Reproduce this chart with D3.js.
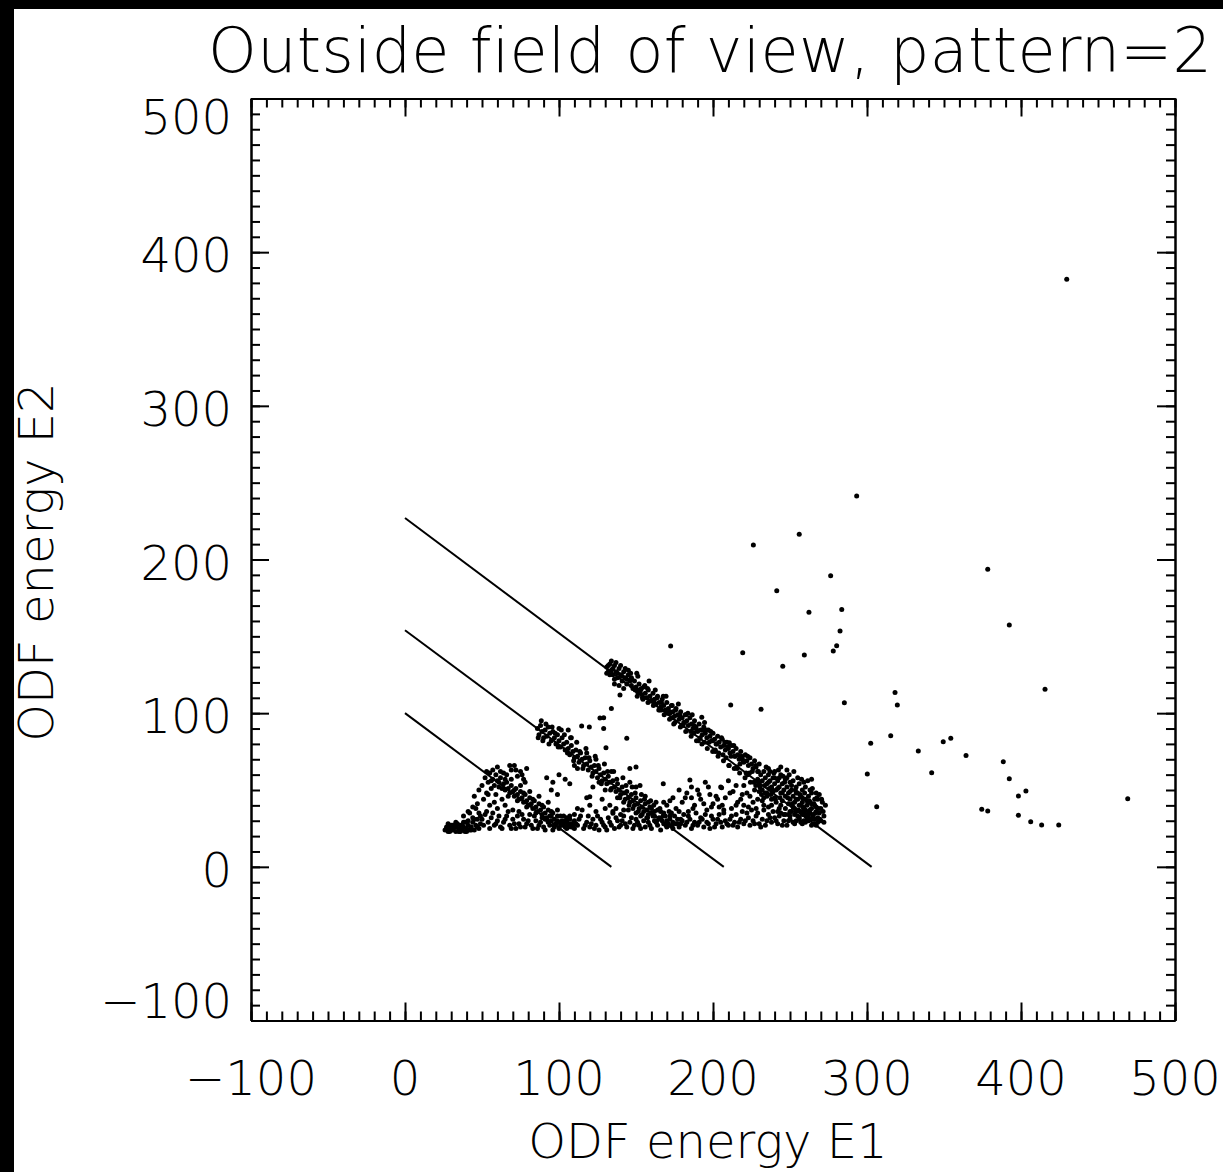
<!DOCTYPE html>
<html>
<head>
<meta charset="utf-8">
<script src="https://cdn.jsdelivr.net/npm/d3@7"></script>
<style>
  body { margin: 0; background: #000; }
  text { font-family: "DejaVu Sans", sans-serif; font-weight: 200; fill: #000; font-variant-ligatures: none; }
</style>
</head>
<body>
<div id="chart"></div>
<script>
// tick labels
var xTickVals = [-100, 0, 100, 200, 300, 400, 500];
var yTickVals = [-100, 0, 100, 200, 300, 400, 500];

// the three reference lines, [E1, E2] end points
var refLines = [
  [[0, 100], [134, 0]],
  [[0, 154], [207, 0]],
  [[0, 227], [303, 0]]
];

// bottom-left group (around the lowest line)
var groupA = [
  [26,24],[27,26],[28,23],[29,25],[30,27],[31,24],[32,26],[33,23],[34,28],[35,25],[36,27],[37,24],
  [38,26],[39,29],[40,25],[41,27],[42,24],[28,28],[30,24],[33,26],[36,23],[38,29],[40,23],[43,26],
  [44,29],[45,24],[46,27],[47,31],[48,25],[49,28],[38,33],[41,36],[44,32],[46,38],[48,35],[50,31],
  [52,34],[54,29],[56,32],[58,27],[60,30],[62,26],[64,29],[66,33],[68,27],[70,31],[72,25],[74,28],
  [76,34],[78,26],[80,30],[82,27],[84,33],[86,25],[88,29],[90,26],[92,31],[94,27],[96,24],[98,28],
  [100,25],[102,30],[104,26],[106,28],
  [52,58],[54,55],[55,61],[57,57],[58,53],[60,56],[61,52],[62,58],[64,54],[65,50],[66,55],[67,51],
  [68,48],[69,53],[70,49],[71,46],[72,51],[73,47],[74,44],[75,49],[76,45],[77,42],[78,47],[79,43],
  [80,40],[81,45],[82,41],[83,38],[84,43],[85,39],[86,36],[87,41],[88,37],[89,34],[90,39],[91,35],
  [92,32],[93,37],[94,33],[95,30],[96,35],[97,31],[98,28],[99,33],[100,29],[102,27],[104,30],[106,26],
  [108,28],[110,25],
  [45,46],[48,50],[50,53],[53,48],[56,51],[59,47],[62,62],[66,60],[69,63],[71,66],[73,59],[75,62],
  [77,57],[79,64],[63,44],[58,42],[55,40],[60,38],[65,40],[70,37],[74,36],
  [92,58],[96,55],[100,60],[104,57],[107,54],[95,50],[99,47],
  [53,62],[56,56],[59,60],[61,55],[63,51],[65,57],[67,46],[69,57],[71,50],[73,43],[75,53],[77,48],
  [79,39],[81,49],[83,44],[85,35],[87,46],[89,40],[91,31],[93,42],[95,36],[97,27],[99,37],[101,33],
  [103,28],[105,32],[107,31],[109,28],
  [27,25],[29,23],[31,27],[33,29],[35,23],[37,27],[39,23],[41,30],[43,24],[45,31],[47,26],[49,33],
  [51,27],[53,36],[55,25],[57,35],[59,28],[61,33],[63,25],[65,31],[67,36],[69,25],[71,28],[73,33],
  [75,26],[77,31],[79,28],[81,34],[83,25],[85,30],[87,27],[89,32],[91,24],[93,29],[95,33],[97,26],
  [99,30],[101,27],[103,33],[105,25],
  [57,63],[60,65],[64,61],[68,66],[72,63],[76,60],[78,55],[54,47],[51,44],[47,41],[44,39],[42,35]
];

// middle group (along the middle line)
var groupB = [
  [86,90],[87,86],[88,92],[89,88],[90,84],[91,89],[92,85],[93,91],[94,87],[95,82],[96,88],[97,84],
  [98,80],[99,86],[100,82],[101,78],[102,84],[103,80],[104,76],[105,81],
  [106,77],[107,73],[108,79],[109,75],[110,71],[111,76],[112,72],[113,68],[114,74],[115,70],[116,66],
  [117,71],[118,67],[119,63],[120,69],[121,65],[122,61],[123,66],[124,62],[125,58],[126,64],[127,60],
  [128,56],[129,61],[130,57],[131,54],[132,59],[133,55],[134,51],[135,56],[136,52],[137,49],[138,54],
  [139,50],[140,47],[141,52],[142,48],[143,44],[144,49],[145,45],[146,42],[147,47],[148,43],[149,40],
  [150,45],[151,41],[152,38],[153,43],[154,39],[155,36],[156,41],[157,37],[158,34],[159,39],[160,35],
  [162,33],[164,37],[166,31],[168,35],[170,30],[172,33],[174,29],
  [100,90],[108,84],[112,64],[118,74],[126,55],[134,62],[142,42],[150,52],[110,66],[124,70],[138,45],
  [146,55],[156,46],[163,42],[130,50],
  [86.5,84],[88.5,95],[89.5,82],[91.5,93],[93.5,80],[95.5,91],[97.5,87],[99.5,78],[101.5,89],[103.5,86],
  [105.5,74],[107.5,84],[109.5,69],[111.5,81],[113.5,75],[115.5,64],[117.5,77],[119.5,71],[121.5,59],
  [123.5,72],[125.5,66],[127.5,54],[129.5,67],[131.5,62],[133.5,50],[135.5,62],[137.5,57],[139.5,45],
  [141.5,58],[143.5,53],[145.5,40],[147.5,52],[149.5,48],[151.5,36],[153.5,47],[155.5,44],[157.5,32],
  [159.5,43],[161.5,40],[163.5,30],[165.5,38],[167.5,33],[169.5,27],[171.5,36],[173.5,27],[175,33],
  [177,28],[179,31]
];

// upper group (along the top line)
var groupC = [
  [131,130],[132,127],[133,132],[134,128],[135,125],[136,131],[137,127],[138,123],[139,129],[140,125],
  [141,121],[142,127],[143,123],[144,119],[145,125],[146,121],[134,134],[137,133],[140,131],[143,129],
  [136,122],[139,118],[142,116],
  [132,131],[135,129],[138,126],[141,124],[144,122],[133,125],[136,119],[131,126],[145,128],[147,123],
  [147,118],[148,116],[149,121],[150,117],[151,114],[152,119],[153,115],[154,112],[155,117],[156,113],
  [157,110],[158,115],[159,111],[160,108],[161,113],[162,109],[163,106],[164,111],[165,107],[166,104],
  [167,109],[168,105],[169,102],[170,107],[171,103],[172,100],[173,105],[174,101],[175,98],[176,103],
  [177,99],[178,96],[179,101],[180,97],[181,94],[182,99],[183,95],[184,92],[185,97],[186,93],[187,90],
  [188,95],[189,91],[190,88],[191,93],[192,89],[193,86],[194,91],[195,87],[196,84],[197,89],[198,85],
  [199,82],[200,87],[201,83],[202,80],[203,85],[204,81],[205,78],[206,83],[207,79],[208,76],[209,81],
  [210,77],[211,74],[212,79],[213,75],[214,72],[215,77],[216,73],[217,70],[218,75],[219,71],[220,68],
  [221,73],[222,69],[223,66],[224,71],[225,67],[226,64],[227,69],[228,65],[229,62],[230,67],
  [146.5,126],[149.5,115],[150.5,126],[153.5,116],[154.5,109],[157.5,116],[158.5,121],[161.5,108],
  [162.5,115],[165.5,102],[166.5,107],[169.5,111],[170.5,100],[173.5,105],[174.5,93],[177.5,106],
  [178.5,99],[181.5,94],[182.5,99],[185.5,88],[186.5,99],[189.5,89],[190.5,82],[193.5,89],[194.5,94],
  [197.5,81],[198.5,88],[201.5,75],[202.5,80],[205.5,84],[206.5,73],[209.5,78],[210.5,66],[213.5,79],
  [214.5,72],[217.5,67],[218.5,72],[221.5,61],[222.5,72],[225.5,62],[226.5,55],[229.5,62],
  [147.2,122],[151.2,124],[152.2,115],[155.7,118],[159.7,108],[163.7,110],[167.7,111],[171.7,101],
  [175.7,102],[179.7,92],[183.7,100],[187.7,92],[191.7,84],[195.7,89],[199.7,82],[203.7,74],[207.7,81],
  [211.7,72],[215.7,64],[219.7,69],[223.7,61],[227.7,66],
  [150.8,111],[154.2,110],[157.8,107],[161.3,105],[164.8,102],[168.3,99],[171.8,96],[175.3,94],
  [178.8,91],[182.3,88],[185.8,85],[189.3,82],[192.8,80],[196.3,77],[199.8,75],[203.3,72],[206.8,69],
  [210.3,66],[213.8,64],[217.3,61],[220.8,58],[224.3,55],[227.8,53],
  [152.5,113],[159.5,108],[166.5,102],[173.5,97],[180.5,92],[187.5,87],[194.5,81],[201.5,76],
  [208.5,71],[215.5,65],[222.5,60],[229.5,55],
  [231,60],[232,56],[233,62],[234,58],[235,54],[236,60],[237,56],[238,52],[239,58],[240,54],[241,50],
  [242,56],[243,52],[244,48],[245,54],[246,50],[247,46],[248,52],[249,48],[250,44],[251,50],[252,46],
  [253,42],[254,48],[255,44],[256,40],[257,46],[258,42],[259,38],[260,44],[261,40],[262,36],[263,42],
  [264,38],[265,34],[266,40],[267,36],[268,32],[269,35],[270,30],
  [232,50],[235,46],[238,44],[241,42],[244,40],[247,38],[250,36],[253,34],[256,32],[259,30],[262,30],
  [236,64],[240,62],[244,60],[248,58],[252,56],[256,54],[260,52],[264,48],[268,44],[250,55],[254,52],
  [258,50],[262,46],[266,44],[245,43],[249,41],[253,38],[257,36],[261,34],[265,31],[243,58],[247,57],
  [251,53],[255,58],[259,55],[263,50],[267,48],[234,48],[238,40],[242,36],[246,34],[250,31],[254,30],
  [258,28],[266,28],[270,38],[272,33],[271,42],[269,47],
  [229,57],[230.5,52],[231.5,47],[233.5,53],[234.5,65],[236.5,51],[237.5,47],[239.5,61],[240.5,44],
  [242.5,63],[243.5,45],[245.5,59],[246.5,55],[248.5,45],[249.5,60],[251.5,41],[252.5,62],[253.5,50],
  [255.5,37],[256.5,47],[257.5,57],[258.5,39],[259.5,48],[260.5,33],[261.5,56],[262.5,43],[263.5,31],
  [264.5,51],[265.5,41],[266.5,35],[267.5,45],[268.5,38],[269.5,31],[270.5,44],[271.5,36],[273,40],
  [272,29],[249,34],[252,39],[255,48],[258,45],[261,43],[264,41],[267,39],[245,48],[242,51],[239,49],
  [236,55],[233,45],[230,49],[250,49],[254,44],[257,40],[260,37],[263,35],[248,63],[244,65],[240,58],
  [237,62],[264,57]
];

// floor of points near E2 ~ 25-55
var floorPts = [
  [108,26],[110,30],[112,27],[114,33],[116,25],[118,29],[120,26],[122,31],[124,27],[126,24],[128,29],
  [130,26],[132,32],[134,27],[136,25],[138,30],[140,27],[142,33],[144,26],[146,29],[148,25],[150,31],
  [152,27],[154,34],[156,26],[158,29],[160,25],[162,30],[164,27],[166,24],[168,28],[170,26],[172,31],
  [174,25],[176,28],[178,26],[180,30],[182,27],[184,33],[186,25],[188,29],[190,27],[192,32],[194,26],
  [196,29],[198,25],[200,31],[202,28],[204,34],[206,26],[208,30],[210,27],[212,33],[214,29],[216,26],
  [218,31],[220,28],[222,35],[224,27],[226,30],[228,33],[230,28],[232,31],[234,27],[236,34],[238,29],
  [240,32],[242,28],[244,35],[246,30],[248,27],[250,33],[252,29],[254,36],[256,31],[258,34],[260,29],
  [262,33],[264,27],[266,31],[268,29],
  [176,38],[180,42],[184,36],[188,40],[192,44],[196,37],[200,41],[204,39],[208,45],[212,38],[216,42],
  [220,40],[224,46],[228,38],[232,43],[236,39],[240,45],[183,48],[190,50],[198,47],[205,52],[213,49],
  [220,53],[227,50],[235,48],[195,55],[210,56],[218,44],[226,42],[186,45],[202,46],[170,40],[166,36],
  [174,45],
  [110,34],[115,37],[125,33],[135,36],[145,37],[155,30],[165,32],[120,40],[130,38],[140,34],[150,35],
  [160,38],
  [105,29],[107,33],[109,26],[111,28],[113,31],[117,27],[119,33],[121,28],[123,25],[127,31],[129,27],
  [131,24],[133,29],[137,32],[139,26],[141,30],[143,28],[147,32],[149,27],[151,29],[153,25],[157,32],
  [159,27],[161,33],[163,29],[167,30],[169,33],[171,28],[173,35],[177,31],[179,28],[181,34],[183,29],
  [185,31],[187,27],[189,35],[191,29],[193,31],[195,34],[197,28],[199,33],[201,26],[203,31],[205,29],
  [207,35],[209,28],[211,31],[213,27],[215,34],[217,29],[219,36],[221,30],[223,32],[225,37],[227,28],
  [229,35],[231,26],[233,37],[235,30],[237,32],[239,36],[241,30],[243,33],[245,27],[247,34],[249,30],
  [251,36],[253,28],[255,33],[257,29],[259,35],[261,31],[263,37],[265,33],[267,27],
  [172,43],[178,36],[182,45],[187,38],[191,47],[194,41],[199,39],[203,44],[207,37],[211,48],[215,40],
  [219,47],[223,39],[229,44],[233,40],[238,51],[243,38],[178,50],[197,52],[215,53],[230,54],[206,40],
  [186,52],[222,48],
  [112,38],[118,45],[124,36],[128,44],[133,40],[137,38],[142,37],[148,38],[153,33],[158,42],[162,36],
  [168,42]
];

// scattered points between the groups
var scatterPts = [
  [139.6,111.8],[134,103],[129,97],[129,90],[130.5,77.5],[144,83.6],[106,89],[114.7,91.6],[119.7,91],
  [167.7,54],[185,56.5],[205.6,51.5],[150,65],[146,64],[152.6,53],[122,52],[120,45.6],[135,34.8],
  [192.7,97.3],[210.6,80.7],[126.6,96.8]
];

// sparse outliers to the right
var outliers = [
  [429.7,382.4],[293.3,241.4],[256,216.5],[226.2,209.4],[276.4,189.4],[241.4,179.6],[378.4,193.6],
  [262.3,165.6],[283.6,167.5],[282.5,153.4],[280.3,143.9],[278.1,140.4],[219.3,139.3],[259.3,137.8],
  [245.3,130.6],[172.5,143.7],[392.4,157.3],[415.6,115.5],[318.2,113.5],[319.7,105.3],[285.3,106.8],
  [231.2,102.5],[211.5,105.3],[302.4,80.4],[315.4,85.3],[333.3,75.3],[349.5,81.4],[354.4,83.6],
  [364.3,72.5],[342,61.2],[300.2,60.4],[306.3,39.1],[388.5,68.4],[392.4,57.3],[398.3,46.1],[403.2,49.3],
  [374.5,37.4],[378.4,36.3],[398.3,33.5],[406.3,29.3],[413.4,27.2],[424.5,27.2],[469.3,44.3]
];

var W = 1223, H = 1172;
var svg = d3.select("#chart").append("svg")
  .attr("width", W).attr("height", H)
  .style("display", "block");

svg.append("rect").attr("width", W).attr("height", H).attr("fill", "#000");
svg.append("rect").attr("x", 14).attr("y", 9).attr("width", W - 14).attr("height", H - 9).attr("fill", "#fff");

var x = d3.scaleLinear().domain([-100, 500]).range([251, 1175]);
var y = d3.scaleLinear().domain([-100, 500]).range([1020.5, 98.5]);

// axes: major + minor ticks on all four sides, pointing inward
function drawAxis(axisFn, scale, tx, ty) {
  var major = axisFn(scale).tickValues(xTickVals).tickSizeInner(-18).tickSizeOuter(0).tickFormat("");
  var minor = axisFn(scale).tickValues(scale.ticks(60)).tickSizeInner(-9).tickSizeOuter(0).tickFormat("");
  [minor, major].forEach(function(a) {
    var g = svg.append("g").attr("transform", "translate(" + tx + "," + ty + ")").call(a);
    g.selectAll("path, line").attr("stroke", "#000").attr("stroke-width", 2);
  });
}
drawAxis(d3.axisBottom, x, 0, y(-100));
drawAxis(d3.axisTop, x, 0, y(500));
drawAxis(d3.axisLeft, y, x(-100), 0);
drawAxis(d3.axisRight, y, x(500), 0);

// tick labels
function fmt(v) { return v < 0 ? "\u2212" + Math.abs(v) : String(v); }

svg.append("g").selectAll("text").data(xTickVals).enter().append("text")
  .attr("x", function(d) { return x(d); })
  .attr("y", y(-100) + 74.5)
  .attr("text-anchor", "middle")
  .style("font-size", "48px")
  .text(fmt);

svg.append("g").selectAll("text").data(yTickVals).enter().append("text")
  .attr("x", 232)
  .attr("y", function(d, i) {
    if (i === yTickVals.length - 1) return y(d) + 35;
    if (i === 0) return y(d) - 3;
    return y(d) + 20;
  })
  .attr("text-anchor", "end")
  .style("font-size", "48px")
  .text(fmt);

// titles
svg.append("text")
  .attr("x", 710).attr("y", 72)
  .attr("text-anchor", "middle")
  .attr("textLength", 1004)
  .attr("lengthAdjust", "spacing")
  .style("font-size", "62px")
  .text("Outside field of view, pattern=2");

svg.append("text")
  .attr("x", 708).attr("y", 1158)
  .attr("text-anchor", "middle")
  .style("font-size", "48px")
  .text("ODF energy E1");

svg.append("text")
  .attr("transform", "translate(53,562) rotate(-90)")
  .attr("text-anchor", "middle")
  .style("font-size", "48px")
  .text("ODF energy E2");

// reference lines
svg.append("g").selectAll("line").data(refLines).enter().append("line")
  .attr("x1", function(d) { return x(d[0][0]); })
  .attr("y1", function(d) { return y(d[0][1]); })
  .attr("x2", function(d) { return x(d[1][0]); })
  .attr("y2", function(d) { return y(d[1][1]); })
  .attr("stroke", "#000")
  .attr("stroke-width", 2);

// points
var allPts = groupA.concat(groupB, groupC, floorPts, scatterPts, outliers);
svg.append("g").selectAll("circle").data(allPts).enter().append("circle")
  .attr("cx", function(d) { return x(d[0]); })
  .attr("cy", function(d) { return y(d[1]); })
  .attr("r", 2.5)
  .attr("fill", "#000");
</script>
</body>
</html>
